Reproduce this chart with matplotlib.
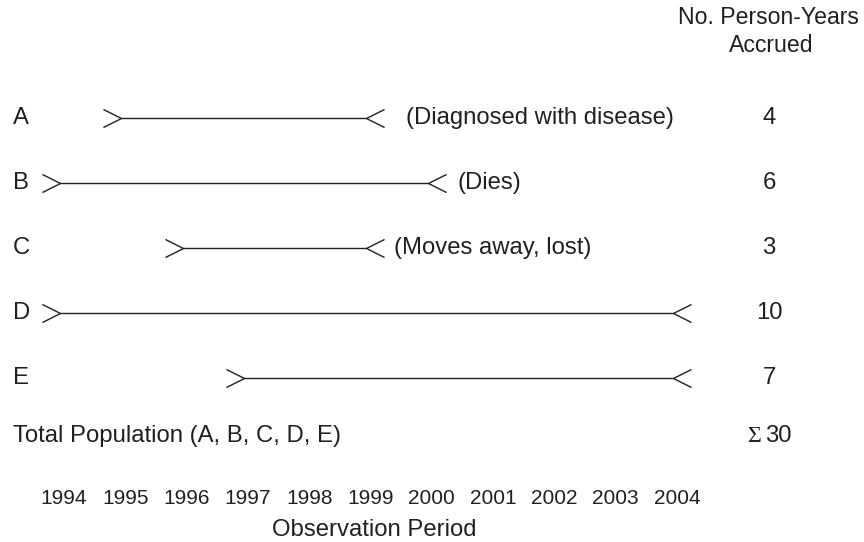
import matplotlib
matplotlib.use("Agg")
import matplotlib.pyplot as plt
from matplotlib.path import Path
from matplotlib.markers import MarkerStyle

# ---- data ----
subjects = ["A", "B", "C", "D", "E"]
start_year = [1995, 1994, 1996, 1994, 1997]
end_year = [1999, 2000, 1999, 2004, 2004]
outcomes = ["(Diagnosed with disease)", "(Dies)", "(Moves away, lost)", "", ""]
person_years = [4, 6, 3, 10, 7]
year_labels = [1994, 1995, 1996, 1997, 1998, 1999, 2000, 2001, 2002, 2003, 2004]
total_label = "Total Population (A, B, C, D, E)"
header_lines = ["No. Person-Years", "Accrued"]
xlabel = "Observation Period"

# ---- layout ----
W, H, DPI = 864, 542, 100
X0_PX, PX_PER_YEAR = 60.0, 61.3        # pixel of 1994, pixels per year
ROW0_PX, ROW_STEP = 118.0, 65.0        # y pixel of first row, row step
outcome_gap_px = [40, 30, 28, 0, 0]
INK = "#231f20"
FONT = ["Liberation Sans", "DejaVu Sans"]
FS = 17.2
FS_YEAR = 15.0
FS_HEAD = 16.6

plt.rcParams["font.family"] = FONT

fig = plt.figure(figsize=(W / DPI, H / DPI), dpi=DPI)
ax = fig.add_axes([0, 0, 1, 1])
ax.set_xlim(year_labels[0] - X0_PX / PX_PER_YEAR,
            year_labels[0] + (W - X0_PX) / PX_PER_YEAR)
ax.set_ylim(H, 0)
ax.axis("off")


def px2yr(px):
    return year_labels[0] + (px - X0_PX) / PX_PER_YEAR


right_chev = MarkerStyle(Path([(-1, 0.5), (0, 0), (-1, -0.5)],
                              [Path.MOVETO, Path.LINETO, Path.LINETO]))
left_chev = MarkerStyle(Path([(1, 0.5), (0, 0), (1, -0.5)],
                             [Path.MOVETO, Path.LINETO, Path.LINETO]))
MS = 26

col_x = px2yr(769)
for i, s in enumerate(subjects):
    y = ROW0_PX + ROW_STEP * i
    ax.plot([start_year[i], end_year[i]], [y, y], color=INK, lw=1.0,
            solid_capstyle="butt")
    ax.plot([start_year[i]], [y], marker=right_chev, ms=MS, mew=1.0,
            mec=INK, mfc="none", ls="none")
    ax.plot([end_year[i]], [y], marker=left_chev, ms=MS, mew=1.0,
            mec=INK, mfc="none", ls="none")
    ax.text(px2yr(13), y, s, ha="left", va="center", fontsize=FS, color=INK)
    if outcomes[i]:
        ax.annotate(outcomes[i], xy=(end_year[i], y),
                    xytext=(outcome_gap_px[i] * 72 / DPI, 0),
                    textcoords="offset points", ha="left", va="center",
                    fontsize=FS, color=INK)
    ax.text(col_x, y, str(person_years[i]), ha="center", va="center",
            fontsize=FS, color=INK)

total_y = 436
ax.text(px2yr(13), total_y, total_label, ha="left", va="center",
        fontsize=FS, color=INK)
ax.text(px2yr(761), total_y, "Σ", ha="right", va="center", fontsize=FS,
        color=INK, family=["Liberation Serif", "DejaVu Serif"])
ax.text(px2yr(765), total_y, str(sum(person_years)), ha="left",
        va="center", fontsize=FS, color=INK)

for yr in year_labels:
    ax.annotate(str(yr), xy=(yr, 499), xytext=(4 * 72 / DPI, 0),
                textcoords="offset points", ha="center", va="center",
                fontsize=FS_YEAR, color=INK)
ax.text(px2yr(374), 530, xlabel, ha="center", va="center", fontsize=FS,
        color=INK)

ax.text(px2yr(768), 18, header_lines[0], ha="center", va="center",
        fontsize=FS_HEAD, color=INK)
ax.text(px2yr(771), 45, header_lines[1], ha="center", va="center",
        fontsize=FS_HEAD, color=INK)

fig.savefig("out.png", dpi=DPI)
